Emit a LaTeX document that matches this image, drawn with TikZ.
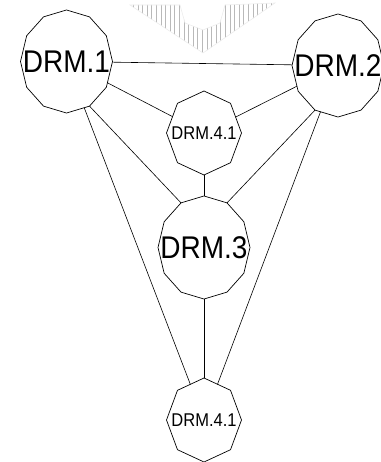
\documentclass[tikz,border=0pt]{standalone}
\usepackage{fontspec}
\setmainfont{Liberation Sans}
\usetikzlibrary{shapes.geometric, patterns.meta}

% 文字不撑大多边形
\newcommand{\drmtext}[1]{\makebox[0pt]{\raisebox{-0.36em}[0pt][0pt]{#1}}}

\begin{document}
\begin{tikzpicture}[x=1pt, y=-1pt,
    drm/.style={draw, regular polygon, inner sep=0pt, outer sep=0pt, line width=0.7pt, yscale=1.12},
    drm big/.style={drm, regular polygon sides=12, shape border rotate=15, minimum size=92pt, font=\fontsize{28}{28}\selectfont},
    drm small/.style={drm, regular polygon sides=8, shape border rotate=22.5, minimum size=75pt, font=\fontsize{16.5}{16.5}\selectfont},
    link/.style={line width=0.6pt}]

    % --- 画布范围 ---
    \useasboundingbox (0,0) rectangle (380,462);

    % --- 顶部的阴影形状 ---
    \draw[gray!15, line width=0.6pt, pattern={Lines[angle=90, distance=4.6pt, line width=0.7pt]}, pattern color=gray!55]
      (130,5) -- (180,5) -- (185,23) -- (203,30) -- (220,23) -- (225,5) -- (275,3) -- (203,53) -- cycle;

    % --- 节点 ---
    \node[drm big] (drm1) at (66.5,61.5) {\drmtext{DRM.1}};
    \node[drm big] (drm2) at (338,65.5) {\drmtext{DRM.2}};
    \node[drm small] (drm41a) at (204,133) {\drmtext{DRM.4.1}};
    \node[drm big] (drm3) at (204,247.5) {\drmtext{DRM.3}};
    \node[drm small] (drm41b) at (204,420) {\drmtext{DRM.4.1}};

    % --- 连线 ---
    \draw[link] (drm1) -- (drm2);
    \draw[link] (drm1) -- (drm41a);
    \draw[link] (drm2) -- (drm41a);
    \draw[link] (drm41a) -- (drm3);
    \draw[link] (drm1.-60) -- (drm3.120); % 顶点到顶点
    \draw[link] (drm2.240) -- (drm3.60);
    \draw[link] (drm1) -- (drm41b);
    \draw[link] (drm2) -- (drm41b);
    \draw[link] (drm3) -- (drm41b);

\end{tikzpicture}
\end{document}
